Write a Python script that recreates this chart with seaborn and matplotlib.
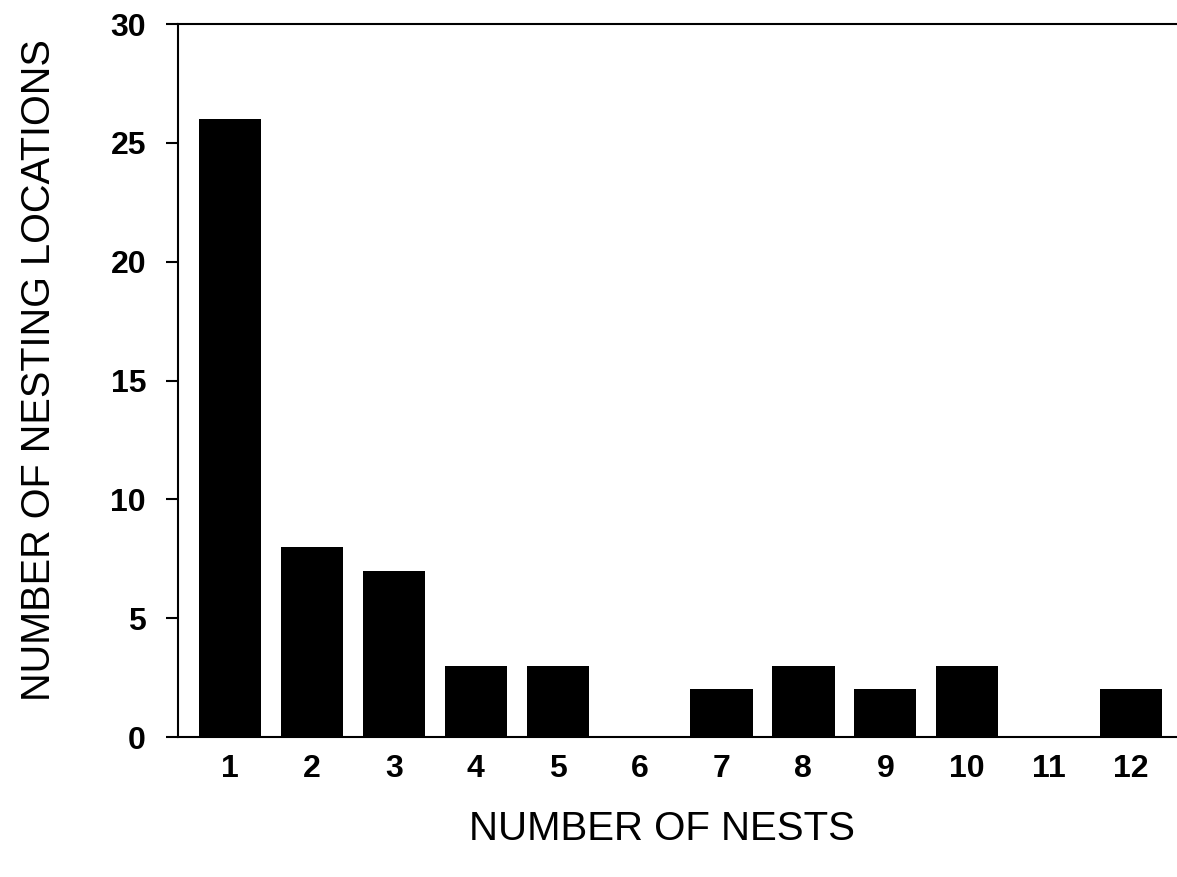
import matplotlib
matplotlib.use("Agg")
import matplotlib.pyplot as plt
import seaborn as sns
import pandas as pd

nests = ["1", "2", "3", "4", "5", "6", "7", "8", "9", "10", "11", "12"]
locations = [26, 8, 7, 3, 3, 0, 2, 3, 2, 3, 0, 2]

df = pd.DataFrame({"nests": nests, "locations": locations})

sns.set_theme(style="white")
plt.rcParams["font.family"] = ["Liberation Sans", "DejaVu Sans"]

fig = plt.figure(figsize=(11.77, 8.77), dpi=100)
ax = fig.add_axes([0.1512, 0.1596, 0.8488, 0.8130])

sns.barplot(data=df, x="nests", y="locations", order=nests, color="black",
            width=0.76, saturation=1, edgecolor="black", linewidth=0, ax=ax)

ax.set_xlim(-0.635, 11.56)
ax.set_ylim(0, 30)
ax.set_yticks([0, 5, 10, 15, 20, 25, 30])

for s in ["left", "top", "bottom"]:
    ax.spines[s].set_visible(True)
    ax.spines[s].set_color("black")
    ax.spines[s].set_linewidth(1.5)
ax.spines["right"].set_visible(False)

ax.tick_params(axis="y", which="major", length=9, width=1.5, color="black",
               direction="out", left=True, pad=14, labelsize=23, labelcolor="black")
ax.tick_params(axis="x", which="major", length=0, pad=12, labelsize=23, labelcolor="black")
for lab in ax.get_xticklabels() + ax.get_yticklabels():
    lab.set_fontweight("bold")

ax.set_xlabel("NUMBER OF NESTS", fontsize=29, color="black", labelpad=20)
ax.set_ylabel("NUMBER OF NESTING LOCATIONS", fontsize=28.5, color="black", labelpad=38)
ax.xaxis.set_label_coords(0.485, -0.103)
ax.yaxis.label.set_y(0.515)

fig.savefig("out.png", dpi=100)
